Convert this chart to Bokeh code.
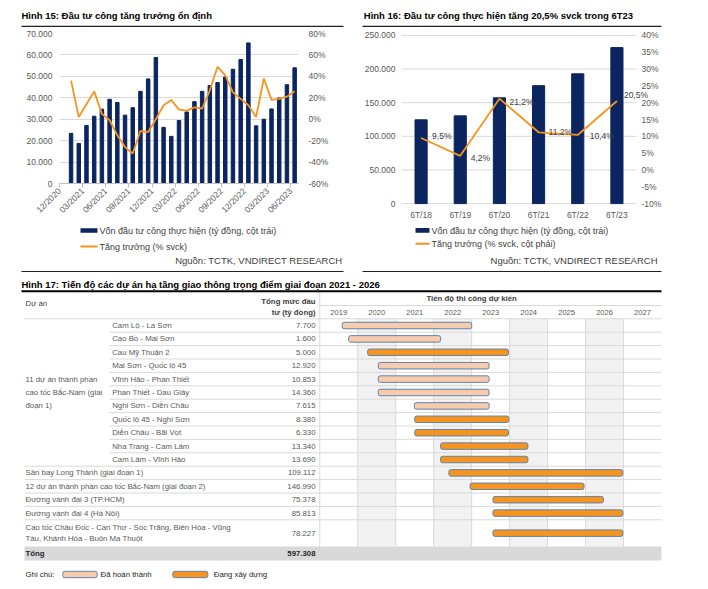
import math
import numpy as np
from bokeh.plotting import figure
from bokeh.models import Range1d, LinearAxis, FixedTicker, Label
from bokeh.layouts import column, row
from bokeh.embed import file_html
from bokeh.resources import INLINE
from bokeh.core.properties import value

FONT = "Liberation Sans"
NAVY = "#0b2560"
ORANGE = "#F7941D"
GRID = "#d9d9d9"
TXT = "#404040"
AX = "#595959"

# ---------------- data: Hinh 15 ----------------
title15 = "Hình 15: Đầu tư công tăng trưởng ổn định"
# monthly categories 12/2020 .. 06/2023 (31), first one has no value
invest15 = [None, 23400, 18700, 27100, 31400, 34700, 39300, 37800, 31900, 35400, 43000, 48800,
            58800, 26200, 22000, 29400, 33400, 38200, 43000, 45700, 47100, 49700, 53300, 57900,
            65600, 26900, 30000, 34800, 39900, 46100, 54000]
growth15 = [None, 36, 2, 14, 26, 5, -1, -15, -26, -32, -11, -12, 0, 13, 18, 9, 8, 11, 10, 27,
            49, 41, 25, 19, 13, 2, 38, 18, 19, 21, 26]
tick_labels15 = ["12/2020", "03/2021", "06/2021", "09/2021", "12/2021", "03/2022", "06/2022",
                 "09/2022", "12/2022", "03/2023", "06/2023"]
left15_ticks = [0, 10000, 20000, 30000, 40000, 50000, 60000, 70000]
left15_labels = ["0", "10.000", "20.000", "30.000", "40.000", "50.000", "60.000", "70.000"]
right15_ticks = [-60, -40, -20, 0, 20, 40, 60, 80]
legend15 = ["Vốn đầu tư công thực hiện (tỷ đồng, cột trái)", "Tăng trưởng (% svck)"]
source15 = "Nguồn: TCTK, VNDIRECT RESEARCH"

# ---------------- data: Hinh 16 ----------------
title16 = "Hình 16: Đầu tư công thực hiện tăng 20,5% svck trong 6T23"
cats16 = ["6T/18", "6T/19", "6T/20", "6T/21", "6T/22", "6T/23"]
invest16 = [124500, 130400, 157200, 175300, 192900, 231900]
growth16 = [9.5, 4.2, 21.2, 11.2, 10.4, 20.5]
left16_ticks = [0, 50000, 100000, 150000, 200000, 250000]
left16_labels = ["0", "50.000", "100.000", "150.000", "200.000", "250.000"]
right16_ticks = [-10, -5, 0, 5, 10, 15, 20, 25, 30, 35, 40]
legend16 = ["Vốn đầu tư công thực hiện (tỷ đồng, cột trái)", "Tăng trưởng (% svck, cột phải)"]
source16 = "Nguồn:  TCTK, VNDIRECT RESEARCH"

# ---------------- data: Hinh 17 ----------------
title17 = "Hình 17: Tiến độ các dự án hạ tầng giao thông trọng điểm giai đoạn 2021 - 2026"
group17 = ["11 dự án thành phần", "cao tốc Bắc-Nam (giai", "đoạn 1)"]
names17 = ["Cam Lộ - La Sơn", "Cao Bồ - Mai Sơn", "Cầu Mỹ Thuận 2", "Mai Sơn - Quốc lộ 45",
           "Vĩnh Hảo - Phan Thiết", "Phan Thiết - Dầu Giây", "Nghi Sơn - Diễn Châu",
           "Quốc lộ 45 - Nghi Sơn", "Diễn Châu - Bãi Vọt", "Nha Trang - Cam Lâm",
           "Cam Lâm - Vĩnh Hảo", "Sân bay Long Thành (giai đoạn 1)",
           "12 dự án thành phần cao tốc Bắc-Nam (giai đoạn 2)", "Đường vành đai 3 (TP.HCM)",
           "Đường vành đai 4 (Hà Nội)",
           "Cao tốc Châu Đốc - Cần Thơ - Sóc Trăng, Biên Hòa - Vũng\nTàu, Khánh Hòa - Buôn Ma Thuột"]
in_group17 = [True] * 11 + [False] * 5
capital17 = [7700, 1600, 5000, 12920, 10853, 14360, 7615, 8380, 6330, 13340, 13690,
             109112, 146990, 75378, 85813, 78227]
start17 = [2019.59, 2019.76, 2020.26, 2020.54, 2020.54, 2020.54, 2021.49, 2021.50, 2021.50,
           2022.18, 2022.18, 2022.40, 2022.96, 2023.56, 2023.56, 2023.56]
end17 = [2023.00, 2022.18, 2023.97, 2023.46, 2023.46, 2023.46, 2023.46, 2023.98, 2023.97,
         2024.48, 2024.48, 2026.98, 2025.96, 2026.47, 2026.98, 2026.98]
status17 = ["done", "done", "build", "done", "done", "done", "done", "build", "build",
            "build", "build", "build", "build", "build", "build", "build"]
years17 = [2019, 2020, 2021, 2022, 2023, 2024, 2025, 2026, 2027]
status_labels = {"done": "Đã hoàn thành", "build": "Đang xây dựng"}
status_colors = {"done": "#F8CBAD", "build": "#F7941D"}
BAR_EDGE = "#5f83ad"

TFS = "7.8px"   # table font size


def fmt_num(v):
    return f"{v:,}".replace(",", ".")


def pixfig(w, h, x0, x1, y0, y1):
    p = figure(width=w, height=h, title=None, x_range=Range1d(x0, x1), y_range=Range1d(y1, y0),
               x_axis_type=None, y_axis_type=None, output_backend="svg",
               toolbar_location=None, min_border=0)
    p.outline_line_color = None
    return p


def put(p, xs, ys, texts, size=TFS, color=TXT, align="left", style="normal", **kw):
    p.text(x=list(xs), y=list(ys), text=list(texts), text_font=value(FONT), text_font_size=size,
           text_color=color, text_align=align, text_baseline="middle",
           text_font_style=style, **kw)


def style_axis(ax, standoff):
    ax.major_label_text_font = FONT
    ax.major_label_text_font_size = "8.5px"
    ax.major_label_text_color = AX
    ax.axis_line_color = None
    ax.major_tick_line_color = None
    ax.minor_tick_line_color = None
    ax.major_tick_out = 0
    ax.major_tick_in = 0
    ax.minor_tick_out = 0
    ax.minor_tick_in = 0
    ax.major_label_standoff = standoff


# ---------------- header (titles) ----------------
hdr = pixfig(700, 27, 0, 700, 0, 27)
put(hdr, [21, 363.3], [14.7, 14.7], [title15, title16], size="9.5px", color="#000000", style="bold")
hdr.segment(x0=[21, 362], y0=[26, 26], x1=[343, 661], y1=[26, 26], line_color="#222222",
            line_width=1.3)

# ---------------- chart 15 ----------------
idx15 = list(range(len(invest15)))
c15 = figure(width=354, height=195, title=None, x_range=Range1d(-0.5, len(invest15) - 0.5),
             y_range=Range1d(left15_ticks[0], left15_ticks[-1]), output_backend="svg",
             toolbar_location=None, min_border_left=59, min_border_right=56,
             min_border_top=6, min_border_bottom=39)
c15.outline_line_color = None
c15.xgrid.visible = False
c15.ygrid.grid_line_color = GRID
c15.extra_y_ranges = {"pct": Range1d(right15_ticks[0], right15_ticks[-1])}
ya = c15.yaxis[0]
ya.ticker = FixedTicker(ticks=left15_ticks)
ya.major_label_overrides = {t: s for t, s in zip(left15_ticks, left15_labels)}
style_axis(ya, 7)
xa = c15.xaxis[0]
xt = [i - 0.5 for i in range(0, len(invest15), 3)]
xa.ticker = FixedTicker(ticks=xt)
xa.major_label_overrides = {t: s for t, s in zip(xt, tick_labels15)}
style_axis(xa, 2)
xa.major_label_orientation = math.pi / 4
xa.axis_line_color = "#bfbfbf"
xa.major_tick_line_color = "#bfbfbf"
xa.major_tick_out = 4
ra = LinearAxis(y_range_name="pct", ticker=FixedTicker(ticks=right15_ticks),
                major_label_overrides={t: f"{t}%" for t in right15_ticks})
style_axis(ra, 10)
c15.add_layout(ra, "right")
c15.vbar(x=idx15, top=np.array(invest15, dtype=float), width=0.45, fill_color=NAVY,
         line_color=NAVY)
c15.line(x=idx15, y=np.array(growth15, dtype=float), y_range_name="pct", line_color=ORANGE,
         line_width=1.8)

# ---------------- chart 16 ----------------
# The frame is padded (right, top, bottom) so the last data label and the pinned right-axis
# labels are not clipped; the right axis sits at the last category boundary and the
# grid lines are drawn only over the category area.
idx16 = list(range(len(cats16)))
BORDER_L16, BORDER_R16, W16 = 47, 30, 346
PLOT_W16 = 235                      # width of the category area in px
PLOT_H16 = 170.7                    # height of the value area in px
PAD_V = 6                           # vertical padding of the frame in px
FRAME_W16 = W16 - BORDER_L16 - BORDER_R16
x_end16 = len(cats16) - 0.5
x_max16 = -0.5 + len(cats16) * FRAME_W16 / PLOT_W16
padL = (left16_ticks[-1] - left16_ticks[0]) * PAD_V / PLOT_H16
padR = (right16_ticks[-1] - right16_ticks[0]) * PAD_V / PLOT_H16
c16 = figure(width=W16, height=195, title=None, x_range=Range1d(-0.5, x_max16),
             y_range=Range1d(left16_ticks[0] - padL, left16_ticks[-1] + padL),
             output_backend="svg", toolbar_location=None, min_border_left=BORDER_L16,
             min_border_right=BORDER_R16, min_border_top=8 - PAD_V,
             min_border_bottom=17 - PAD_V)
c16.outline_line_color = None
c16.xgrid.visible = False
c16.ygrid.visible = False
c16.extra_y_ranges = {"pct": Range1d(right16_ticks[0] - padR, right16_ticks[-1] + padR)}
c16.segment(x0=-0.5, x1=x_end16, y0=left16_ticks, y1=left16_ticks, line_color=GRID,
            line_width=1)
ya = c16.yaxis[0]
ya.ticker = FixedTicker(ticks=left16_ticks)
ya.major_label_overrides = {t: s for t, s in zip(left16_ticks, left16_labels)}
style_axis(ya, 6)
xa = c16.xaxis[0]
xa.ticker = FixedTicker(ticks=idx16)
xa.major_label_overrides = {i: s for i, s in zip(idx16, cats16)}
style_axis(xa, 0)
ra = LinearAxis(y_range_name="pct", ticker=FixedTicker(ticks=right16_ticks),
                major_label_overrides={t: f"{t}%" for t in right16_ticks},
                fixed_location=x_end16)
style_axis(ra, 5)
c16.add_layout(ra, "right")
c16.vbar(x=idx16, top=invest16, width=0.31, fill_color=NAVY, line_color=NAVY)
c16.line(x=idx16, y=growth16, y_range_name="pct", line_color=ORANGE, line_width=1.8)
lab_dx = [11, 10.5, 10, 10, 12, 7]
lab_dy = [1.5, -2, -3, 0, -0.7, 6]   # screen px, up positive
for i, v, dx, dy in zip(idx16, growth16, lab_dx, lab_dy):
    c16.add_layout(Label(x=i, y=v, y_range_name="pct", x_offset=dx, y_offset=dy,
                         text=f"{v:.1f}".replace(".", ",") + "%", text_font=FONT,
                         text_font_size="8.5px", text_color=TXT, text_align="left",
                         text_baseline="middle"))

# the two charts have different plot areas: do not align their frames in the row
for f in (c15, c16):
    if "frame_align" in f.properties():
        f.frame_align = False

# ---------------- legends / sources ----------------
leg = pixfig(700, 51, 0, 700, 222, 273)
leg.quad(left=[80, 415], right=[97, 429], top=[227.7, 227.5], bottom=[232.3, 232.3],
         fill_color=NAVY, line_color=None)
leg.segment(x0=[80, 415], y0=[246, 243.3], x1=[97, 429], y1=[246, 243.3],
            line_color=ORANGE, line_width=2)
put(leg, [99, 431], [230, 230], [legend15[0], legend16[0]], size="9px")
put(leg, [99, 431], [246, 243.3], [legend15[1], legend16[1]], size="9px")
put(leg, [342, 660], [260, 260], [source15, source16], size="9.5px", align="right")
leg.segment(x0=[21, 362], y0=[271, 271], x1=[343, 661], y1=[271, 271], line_color="#222222",
            line_width=1)

# ---------------- Hinh 17 ----------------
G0 = 319.3        # pixel of 2019 boundary
PXY = 37.97       # pixels per year
p17 = pixfig(700, 312, 0, 700, 273, 585)
p17.extra_x_ranges = {"yr": Range1d(years17[0] - G0 / PXY, years17[0] + (700 - G0) / PXY)}

ROW_TOP, ROW_H = 318.3, 13.4
n = len(names17)
tops = [ROW_TOP + ROW_H * i for i in range(n)]
heights = [ROW_H] * (n - 1) + [26.7]
bots = [t + h for t, h in zip(tops, heights)]
centers = [(t + b) / 2 for t, b in zip(tops, bots)]
TABLE_BOTTOM = bots[-1]

# shaded year columns and vertical lines
shaded = [y for y in years17 if (y - years17[0]) % 2 == 1]
p17.quad(left=shaded, right=[y + 1 for y in shaded], top=ROW_TOP, bottom=TABLE_BOTTOM,
         x_range_name="yr", fill_color="#f2f2f2", line_color=None)
vy = years17[1:]
p17.segment(x0=vy, x1=vy, y0=ROW_TOP, y1=TABLE_BOTTOM, x_range_name="yr", line_color=GRID,
            line_width=1)
p17.segment(x0=[years17[0]], x1=[years17[0]], y0=[291.5], y1=[TABLE_BOTTOM + 14],
            x_range_name="yr", line_color=GRID, line_width=1)

# horizontal separators
sx0 = []
for i in range(n - 1):
    sx0.append(109 if (in_group17[i] and in_group17[i + 1]) else 24)
p17.segment(x0=sx0, x1=[661] * len(sx0), y0=bots[:-1], y1=bots[:-1], line_color=GRID,
            line_width=1)
p17.segment(x0=[24, G0], x1=[661, 661], y0=[ROW_TOP, 305], y1=[ROW_TOP, 305], line_color=GRID,
            line_width=1)

# total band
p17.quad(left=[24], right=[661], top=[TABLE_BOTTOM], bottom=[TABLE_BOTTOM + 14],
         fill_color="#d9d9d9", line_color=None)

# title and header
put(p17, [21], [284], [title17], size="9.5px", color="#000000", style="bold")
p17.segment(x0=[21], x1=[661], y0=[290.7], y1=[290.7], line_color="#000000", line_width=2)
put(p17, [25], [303], ["Dự án"])
put(p17, [315, 315], [300.7, 312.3], ["Tổng mức đầu", "tư (tỷ đồng)"], align="right",
    style="bold")
p17.text(x=[(years17[0] + years17[-1]) / 2], y=[297.7], text=["Tiến độ thi công dự kiến"],
         x_range_name="yr", text_font=value(FONT), text_font_size=TFS, text_color=TXT,
         text_align="center", text_baseline="middle", text_font_style="bold")
p17.text(x=[y + 0.5 for y in years17], y=[312.3] * len(years17), text=[str(y) for y in years17],
         x_range_name="yr", text_font=value(FONT), text_font_size="7.6px", text_color=AX,
         text_align="center", text_baseline="middle")

# names
nx, ny, nt = [], [], []
for i, nm in enumerate(names17):
    lines = nm.split("\n")
    for k, ln in enumerate(lines):
        nx.append(111.7 if in_group17[i] else 25)
        ny.append(centers[i] + (k - (len(lines) - 1) / 2) * 11)
        nt.append(ln)
put(p17, nx, ny, nt, color=AX)
gi = [i for i, g in enumerate(in_group17) if g]
gc = (tops[gi[0]] + bots[gi[-1]]) / 2
put(p17, [25] * len(group17),
    [gc + (k - (len(group17) - 1) / 2) * 13.2 for k in range(len(group17))], group17, color=AX)
put(p17, [315] * n, centers, [fmt_num(v) for v in capital17], color=AX, align="right")
put(p17, [25], [TABLE_BOTTOM + 7], ["Tổng"], color="#262626", style="bold")
put(p17, [315], [TABLE_BOTTOM + 7], [fmt_num(sum(capital17))], color="#262626", style="bold",
    align="right")

# gantt bars
for st in ["done", "build"]:
    ii = [i for i, s in enumerate(status17) if s == st]
    p17.hbar(y=[centers[i] for i in ii], left=[start17[i] for i in ii],
             right=[end17[i] for i in ii], height=6.5, x_range_name="yr",
             fill_color=status_colors[st], line_color=BAR_EDGE, line_width=1, border_radius=2)

# legend
put(p17, [25], [574], ["Ghi chú:"], color="#262626")
p17.quad(left=[62.3, 172.3], right=[96.7, 207.3], top=[570.8, 570.8], bottom=[577.2, 577.2],
         fill_color=[status_colors["done"], status_colors["build"]], line_color=BAR_EDGE,
         line_width=1, border_radius=2)
put(p17, [100, 213.3], [574, 574], [status_labels["done"], status_labels["build"]],
    color="#262626")

layout = column(hdr, row(c15, c16), leg, p17)
open("out.html", "w").write(file_html(layout, INLINE))
